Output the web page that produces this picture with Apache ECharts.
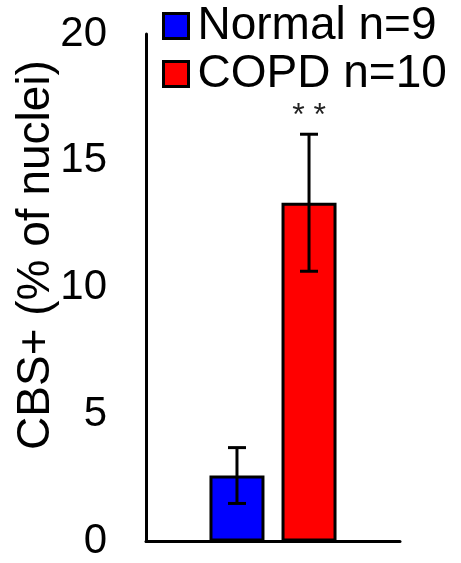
<!DOCTYPE html>
<html>
<head>
<meta charset="utf-8">
<script src="https://cdn.jsdelivr.net/npm/echarts@6/dist/echarts.min.js"></script>
<style>
html,body{margin:0;padding:0;background:#fff;}
#chart{width:461px;height:563px;}
</style>
</head>
<body>
<div id="chart"></div>
<script>
// ---- data ----
const categories = [''];
const groupNames = ['Normal n=9', 'COPD n=10'];
const groupColors = ['#0000ff', '#ff0000'];
const means = [2.6, 13.35];
const errors = [1.1, 2.7];
const significance = ['', '**'];
const yTicks = { min: 0, max: 20, interval: 5 };
const yTitle = 'CBS+ (% of nuclei)';

// ---- layout constants ----
const FONT = '"Liberation Sans", Arial, sans-serif';
const BAR_W = 55;
const BAR_GAP = 0.31;

const chart = echarts.init(document.getElementById('chart'), null, {renderer: 'canvas'});

const barSeries = groupNames.map((name, i) => ({
  name: name,
  type: 'bar',
  data: [means[i]],
  barWidth: BAR_W,
  barGap: (BAR_GAP * 100) + '%',
  itemStyle: { color: groupColors[i], borderColor: '#000', borderWidth: 3 },
  z: 2
}));

const errData = means.map((m, i) => [0, m, errors[i], i, significance[i]]);

const errSeries = {
  name: 'err',
  type: 'custom',
  z: 5,
  data: errData,
  renderItem: function (params, api) {
    const x = api.value(0);
    const m = api.value(1);
    const e = api.value(2);
    const idx = api.value(3);
    const sig = errData[params.dataIndex][4];
    const n = groupNames.length;
    const step = BAR_W * (1 + BAR_GAP);
    const off = (idx - (n - 1) / 2) * step;
    const hi = api.coord([x, m + e]);
    const lo = api.coord([x, m - e]);
    const cx = hi[0] + off;
    const capW = 9;
    const style = { stroke: '#000', lineWidth: 3 };
    const children = [
      { type: 'line', shape: { x1: cx, y1: hi[1], x2: cx, y2: lo[1] }, style: style },
      { type: 'line', shape: { x1: cx - capW, y1: hi[1], x2: cx + capW, y2: hi[1] }, style: style },
      { type: 'line', shape: { x1: cx - capW, y1: lo[1], x2: cx + capW, y2: lo[1] }, style: style }
    ];
    if (sig) {
      children.push({
        type: 'text',
        x: cx, y: hi[1] - 18,
        style: {
          text: sig.split('').join(' '),
          fill: '#222',
          font: '32px ' + FONT,
          align: 'center',
          verticalAlign: 'middle'
        }
      });
    }
    return { type: 'group', children: children };
  }
};

chart.setOption({
  animation: false,
  backgroundColor: '#fff',
  grid: { left: 146, right: 61, top: 34, bottom: 21.5, containLabel: false },
  legend: {
    data: groupNames,
    orient: 'vertical',
    left: 162,
    top: 3,
    padding: 0,
    itemWidth: 25,
    itemHeight: 25,
    itemGap: 2,
    icon: 'rect',
    itemStyle: { borderColor: '#000', borderWidth: 3 },
    textStyle: { fontFamily: FONT, fontSize: 46, color: '#000', lineHeight: 45, padding: [0, 0, 0, 4] },
    selectedMode: false
  },
  xAxis: {
    type: 'category',
    data: categories,
    axisLine: { show: true, lineStyle: { color: '#000', width: 3 } },
    axisTick: { show: false },
    axisLabel: { show: false },
    splitLine: { show: false }
  },
  yAxis: {
    type: 'value',
    min: yTicks.min,
    max: yTicks.max,
    interval: yTicks.interval,
    axisLine: { show: true, lineStyle: { color: '#000', width: 3 } },
    axisTick: { show: false },
    splitLine: { show: false },
    axisLabel: { fontFamily: FONT, fontSize: 42, color: '#000', margin: 39 }
  },
  graphic: [{
    type: 'text',
    x: 36, y: 255,
    rotation: Math.PI / 2,
    style: {
      text: yTitle,
      font: '46px ' + FONT,
      fill: '#000',
      align: 'center',
      verticalAlign: 'middle'
    }
  }],
  series: barSeries.concat([errSeries])
});
</script>
</body>
</html>
